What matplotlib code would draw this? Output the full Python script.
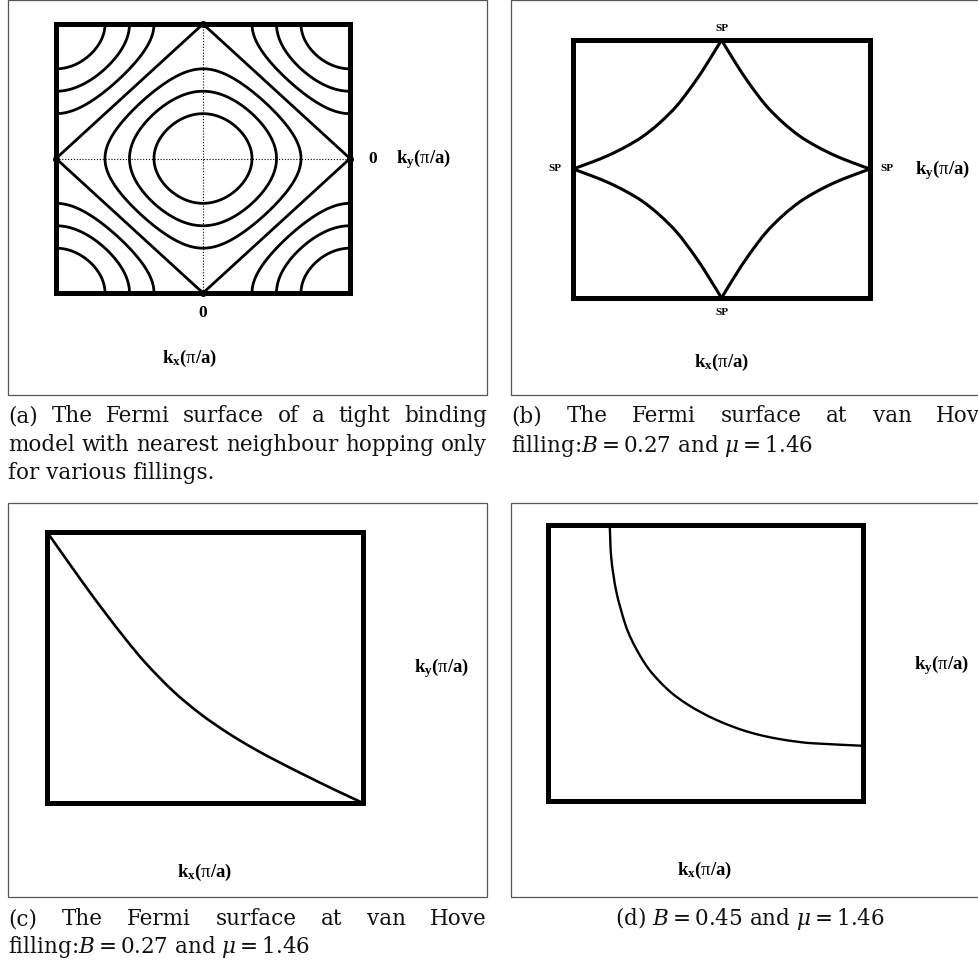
import numpy as np
import matplotlib
matplotlib.use("Agg")
import matplotlib.pyplot as plt
from matplotlib.patches import Rectangle, PathPatch
from matplotlib.path import Path

W, H, DPI = 979, 963, 100

# Tight-binding band E = -2t(cos kx a + cos ky a): energies of the drawn Fermi surfaces (units of t)
tb_energies = [-3.0, -2.0, -1.0, 0.0, 1.0, 2.0, 3.0]

# van Hove Fermi surface, first-quadrant branch (k in units of pi/a); other branches by symmetry
vh_kx = [0.0, 0.092, 0.184, 0.299, 0.414, 0.529, 0.644, 0.759, 0.874, 1.0]
vh_ky = [1.0, 0.827, 0.667, 0.493, 0.360, 0.253, 0.173, 0.107, 0.053, 0.0]

# Fermi surface in one quadrant, B = 0.27, mu = 1.46
fs27_kx = [0.0, 0.080, 0.133, 0.186, 0.250, 0.314, 0.399, 0.484, 0.569, 0.654, 0.739, 0.824, 0.910, 1.0]
fs27_ky = [1.0, 0.868, 0.782, 0.699, 0.603, 0.514, 0.413, 0.330, 0.261, 0.201, 0.148, 0.098, 0.049, 0.0]

# Fermi surface in one quadrant, B = 0.45, mu = 1.46
fs45_kx = [0.196, 0.201, 0.217, 0.244, 0.265, 0.292, 0.320, 0.355, 0.394, 0.440, 0.488,
           0.536, 0.583, 0.631, 0.684, 0.737, 0.790, 0.843, 1.0]
fs45_ky = [1.0, 0.879, 0.758, 0.645, 0.585, 0.527, 0.478, 0.432, 0.390, 0.352, 0.320,
           0.293, 0.271, 0.252, 0.236, 0.224, 0.215, 0.209, 0.200]

sp_label = "SP"
kx_label = r"$\mathbf{k_x(}\mathrm{\pi}\mathbf{/a)}$"
ky_label = r"$\mathbf{k_y(}\mathrm{\pi}\mathbf{/a)}$"

plt.rcParams.update({
    "mathtext.fontset": "custom",
    "mathtext.bf": "Liberation Serif:bold",
    "mathtext.rm": "Liberation Serif",
    "mathtext.it": "Liberation Serif:italic",
})

fig = plt.figure(figsize=(W / DPI, H / DPI), dpi=DPI)
fig.patch.set_facecolor("white")
renderer = fig.canvas.get_renderer()


def fx(px):
    return px / W


def fy(py):
    return 1 - py / H


def frame(x0, y0, x1, y1):
    fig.add_artist(Rectangle((fx(x0), fy(y1)), (x1 - x0) / W, (y1 - y0) / H,
                             transform=fig.transFigure, fill=False, lw=0.9,
                             ec="#555555", clip_on=False))


def box_axes(x0, y0, x1, y1, lim):
    ax = fig.add_axes([fx(x0), fy(y1), (x1 - x0) / W, (y1 - y0) / H])
    ax.set_xlim(*lim)
    ax.set_ylim(*lim)
    ax.set_xticks([])
    ax.set_yticks([])
    for s in ax.spines.values():
        s.set_linewidth(3.6)
        s.set_color("black")
    return ax


def smooth_curve(ax, xs, ys, lw):
    """Draw a smooth Bezier path through the given points (Catmull-Rom tangents)."""
    p = np.column_stack([xs, ys]).astype(float)
    n = len(p)
    verts = [p[0]]
    codes = [Path.MOVETO]
    for i in range(n - 1):
        p0 = p[i - 1] if i > 0 else p[i]
        p1, p2 = p[i], p[i + 1]
        p3 = p[i + 2] if i + 2 < n else p[i + 1]
        verts += [p1 + (p2 - p0) / 6, p2 - (p3 - p1) / 6, p2]
        codes += [Path.CURVE4] * 3
    ax.add_patch(PathPatch(Path(verts, codes), fill=False, lw=lw, ec="black",
                           joinstyle="round", capstyle="round"))


cap_kw = dict(family="DejaVu Serif", fontsize=15.5, math_fontfamily="dejavuserif", color="#111111")
lab_kw = dict(fontsize=13.5, math_fontfamily="custom", color="black", ha="center", va="center")
zero_kw = dict(family="Liberation Serif", weight="bold", fontsize=12.5, color="black")


def justified(words, x0, x1, ybase):
    objs = [fig.text(0, fy(ybase), w, va="baseline", ha="left", **cap_kw) for w in words]
    widths = [o.get_window_extent(renderer).width for o in objs]
    gap = (x1 - x0 - sum(widths)) / (len(words) - 1)
    x = x0
    for o, w in zip(objs, widths):
        o.set_x(fx(x))
        x += w + gap


def line(text, x, ybase, ha="left"):
    fig.text(fx(x), fy(ybase), text, va="baseline", ha=ha, **cap_kw)


# ---------- (a) nearest-neighbour tight binding ----------
frame(8, 0.5, 487, 395)
ax = box_axes(56, 24, 350, 293, (-1, 1))
k = np.linspace(-1, 1, 800)
KX, KY = np.meshgrid(k, k)
E = -2 * (np.cos(np.pi * KX) + np.cos(np.pi * KY))
ax.contour(KX, KY, E, levels=tb_energies, colors="black", linewidths=2.0,
           linestyles="solid")
ax.axhline(0, color="black", lw=0.8, ls=(0, (1, 1.6)))
ax.axvline(0, color="black", lw=0.8, ls=(0, (1, 1.6)))
ax.plot([-1, 1, 0, 0], [0, 0, -1, 1], "o", color="black", ms=4, clip_on=False, zorder=5)
ax.annotate("0", xy=(0, -1), xytext=(0, -20), textcoords="offset pixels",
            ha="center", va="center", **zero_kw)
ax.annotate("0", xy=(1, 0), xytext=(23, 0), textcoords="offset pixels",
            ha="center", va="center", **zero_kw)
fig.text(fx(424), fy(159), ky_label, **lab_kw)
fig.text(fx(190), fy(358), kx_label, **lab_kw)

justified(["(a)", "The", "Fermi", "surface", "of", "a", "tight", "binding"], 8, 487, 422)
justified(["model", "with", "nearest", "neighbour", "hopping", "only"], 8, 487, 451)
line("for various fillings.", 8, 479)

# ---------- (b) van Hove filling, full zone ----------
frame(511, 0.5, 1010, 395)
ax = box_axes(573, 40, 870, 298, (-1, 1))
vx = np.asarray(vh_kx)
vy = np.asarray(vh_ky)
for sx in (1, -1):
    for sy in (1, -1):
        smooth_curve(ax, sx * vx, sy * vy, 2.2)
sp_kw = dict(textcoords="offset pixels", ha="center", va="center",
             family="Liberation Serif", weight="bold", fontsize=8)
ax.annotate(sp_label, xy=(0, 1), xytext=(0, 12), **sp_kw)
ax.annotate(sp_label, xy=(0, -1), xytext=(0, -14), **sp_kw)
ax.annotate(sp_label, xy=(-1, 0), xytext=(-18, 1), **sp_kw)
ax.annotate(sp_label, xy=(1, 0), xytext=(17, 1), **sp_kw)
fig.text(fx(943), fy(170), ky_label, **lab_kw)
fig.text(fx(722), fy(362), kx_label, **lab_kw)

justified(["(b)", "The", "Fermi", "surface", "at", "van", "Hove"], 511, 993, 422)
line(r"filling:$B=0.27$ and $\mu=1.46$", 511, 452)

# ---------- (c) B = 0.27, one quadrant ----------
frame(8, 503, 487, 897)
ax = box_axes(47, 532, 363, 803, (0, 1))
smooth_curve(ax, fs27_kx, fs27_ky, 1.9)
fig.text(fx(442), fy(668), ky_label, **lab_kw)
fig.text(fx(205), fy(872), kx_label, **lab_kw)

justified(["(c)", "The", "Fermi", "surface", "at", "van", "Hove"], 8, 487, 925)
line(r"filling:$B=0.27$ and $\mu=1.46$", 8, 953)

# ---------- (d) B = 0.45, one quadrant ----------
frame(511, 503, 1010, 897)
ax = box_axes(548, 525, 863, 801, (0, 1))
smooth_curve(ax, fs45_kx, fs45_ky, 1.7)
fig.text(fx(942), fy(665), ky_label, **lab_kw)
fig.text(fx(705), fy(870), kx_label, **lab_kw)

line(r"(d) $B=0.45$ and $\mu=1.46$", 750, 925, ha="center")

fig.savefig("out.png", dpi=DPI, facecolor="white")
